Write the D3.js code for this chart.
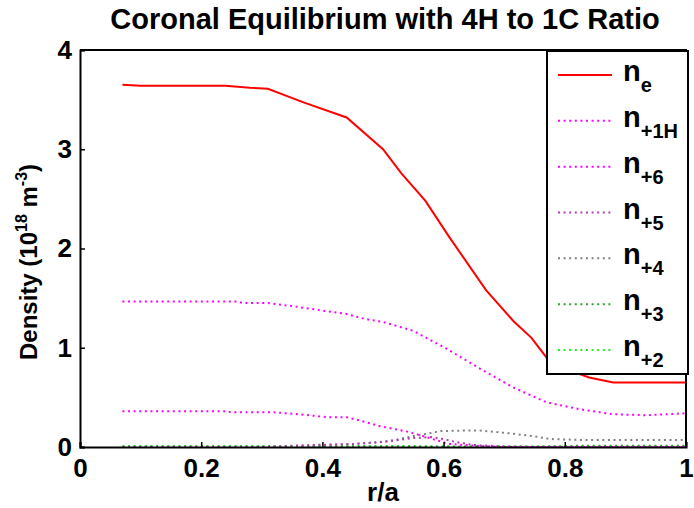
<!DOCTYPE html>
<html>
<head>
<meta charset="utf-8">
<script src="https://cdn.jsdelivr.net/npm/d3@7"></script>
<style>
  body { margin: 0; background: #fff; }
  text { font-family: "Liberation Sans", Arial, sans-serif; font-weight: bold; fill: #000; }
</style>
</head>
<body>
<div id="chart"></div>
<script>
// chart data
var rNe   = [0.07, 0.10, 0.24, 0.28, 0.31, 0.37, 0.44, 0.50, 0.53, 0.57, 0.61, 0.67, 0.715, 0.745, 0.77, 0.80, 0.84, 0.88, 1.0];
var ne    = [3.65, 3.64, 3.64, 3.62, 3.61, 3.47, 3.32, 3.00, 2.76, 2.48, 2.11, 1.58, 1.27, 1.10, 0.90, 0.79, 0.70, 0.65, 0.65];

var rH    = [0.07, 0.26, 0.27, 0.31, 0.35, 0.40, 0.44, 0.47, 0.50, 0.55, 0.605, 0.66, 0.715, 0.77, 0.825, 0.88, 0.935, 1.0];
var nH    = [1.465, 1.465, 1.45, 1.45, 1.42, 1.375, 1.34, 1.29, 1.26, 1.17, 0.99, 0.79, 0.60, 0.45, 0.38, 0.33, 0.32, 0.34];

var rC6   = [0.07, 0.24, 0.25, 0.32, 0.36, 0.41, 0.44, 0.46, 0.495, 0.54, 0.566, 0.59, 0.61, 0.66, 0.70, 1.0];
var nC6   = [0.36, 0.36, 0.35, 0.35, 0.33, 0.30, 0.30, 0.27, 0.21, 0.155, 0.11, 0.065, 0.03, 0.01, 0.0, 0.0];

var rC5   = [0.07, 0.30, 0.38, 0.45, 0.50, 0.55, 0.58, 0.60, 0.62, 0.65, 0.70, 0.75, 1.0];
var nC5   = [0.0, 0.0, 0.02, 0.03, 0.05, 0.09, 0.10, 0.08, 0.05, 0.02, 0.005, 0.0, 0.0];

var rC4   = [0.07, 0.35, 0.40, 0.45, 0.495, 0.523, 0.55, 0.578, 0.594, 0.633, 0.66, 0.705, 0.748, 0.776, 0.83, 1.0];
var nC4   = [0.0, 0.0, 0.02, 0.03, 0.05, 0.075, 0.11, 0.14, 0.16, 0.165, 0.165, 0.14, 0.11, 0.08, 0.07, 0.07];

var rC3   = [0.07, 0.75, 0.82, 1.0];
var nC3   = [0.003, 0.003, 0.012, 0.012];

var rC2   = [0.07, 0.55, 0.60, 1.0];
var nC2   = [0.01, 0.01, 0.005, 0.005];

var labels = ["e", "+1H", "+6", "+5", "+4", "+3", "+2"];
var colors = ["#ff0000", "#ff00ff", "#ff00ff", "#b040b0", "#808080", "#33a033", "#22ee22"];

var xTicks = [0, 0.2, 0.4, 0.6, 0.8, 1];
var yTicks = [0, 1, 2, 3, 4];

var series = [
  {r: rNe, n: ne}, {r: rH, n: nH}, {r: rC6, n: nC6}, {r: rC5, n: nC5},
  {r: rC4, n: nC4}, {r: rC3, n: nC3}, {r: rC2, n: nC2}
].map(function(s, i) {
  return {label: labels[i], color: colors[i], dotted: i > 0,
          pts: s.r.map(function(r, j) { return [r, s.n[j]]; })};
});

var svgWidth = 694;
var svgHeight = 508;
var margin = {top: 50, bottom: 61, right: 8, left: 80};
var width = svgWidth - margin.left - margin.right;
var height = svgHeight - margin.top - margin.bottom;

var svg = d3.select("#chart").append("svg")
  .attr("width", svgWidth)
  .attr("height", svgHeight);

var chartGroup = svg.append("g")
  .attr("transform", `translate(${margin.left}, ${margin.top})`);

var xScale = d3.scaleLinear().domain([0, 1]).range([0, width]);
var yScale = d3.scaleLinear().domain([0, 4]).range([height, 0]);

// lines
var line = d3.line()
  .x(d => xScale(d[0]))
  .y(d => yScale(d[1]));

chartGroup.selectAll(".series")
  .data(series.slice().reverse())
  .enter()
  .append("path")
  .attr("class", "series")
  .attr("d", d => line(d.pts))
  .attr("fill", "none")
  .attr("stroke", d => d.color)
  .attr("stroke-width", 2)
  .attr("stroke-dasharray", d => d.dotted ? "2,3.6" : null);

// axes: ticks pointing inward, like matlab
var bottomAxis = d3.axisBottom(xScale).tickValues(xTicks).tickSize(-5).tickPadding(12)
  .tickFormat(d => d === 0 || d === 1 ? d3.format("d")(d) : d3.format(".1f")(d));
var leftAxis = d3.axisLeft(yScale).tickValues(yTicks).tickSize(-5).tickPadding(8)
  .tickFormat(d3.format("d"));

var xAxisG = chartGroup.append("g")
  .attr("transform", `translate(0, ${height})`)
  .call(bottomAxis);
var yAxisG = chartGroup.append("g").call(leftAxis);

[xAxisG, yAxisG].forEach(function(g) {
  g.select(".domain").attr("stroke", "#000").attr("stroke-width", 2);
  g.selectAll(".tick line").attr("stroke", "#000").attr("stroke-width", 1.5);
  g.selectAll(".tick text").style("font-size", "26px").attr("fill", "#000");
});

// box top and right
chartGroup.append("path")
  .attr("d", `M0,0H${width}V${height}`)
  .attr("fill", "none")
  .attr("stroke", "#000")
  .attr("stroke-width", 2);

// title and axis labels
svg.append("text")
  .attr("x", 385)
  .attr("y", 29)
  .attr("text-anchor", "middle")
  .style("font-size", "29px")
  .text("Coronal Equilibrium with 4H to 1C Ratio");

svg.append("text")
  .attr("x", margin.left + width / 2)
  .attr("y", 501)
  .attr("text-anchor", "middle")
  .style("font-size", "26px")
  .text("r/a");

var yLabel = svg.append("text")
  .attr("transform", "translate(37, 262) rotate(-90)")
  .attr("text-anchor", "middle")
  .style("font-size", "24px");
yLabel.append("tspan").text("Density (10");
yLabel.append("tspan").attr("dy", -10).style("font-size", "16px").text("18");
yLabel.append("tspan").attr("dy", 10).text(" m");
yLabel.append("tspan").attr("dy", -10).style("font-size", "16px").text("-3");
yLabel.append("tspan").attr("dy", 10).text(")");

// legend
var legend = svg.append("g").attr("transform", "translate(547, 51)");
legend.append("rect")
  .attr("width", 141)
  .attr("height", 323)
  .attr("fill", "#fff")
  .attr("stroke", "#000")
  .attr("stroke-width", 2);

var legendY = d3.scalePoint().domain(labels).range([24, 299]);

var entries = legend.selectAll(".entry")
  .data(series)
  .enter()
  .append("g")
  .attr("class", "entry")
  .attr("transform", d => `translate(0, ${legendY(d.label)})`);

entries.append("line")
  .attr("x1", 11).attr("x2", 65)
  .attr("stroke", d => d.color)
  .attr("stroke-width", 2)
  .attr("stroke-dasharray", d => d.dotted ? "2,3.6" : null);

var legendText = entries.append("text")
  .attr("x", 76)
  .attr("y", 6)
  .style("font-size", "29px");
legendText.append("tspan").text("n");
legendText.append("tspan")
  .attr("dy", 11)
  .style("font-size", "20px")
  .text(d => d.label);
</script>
</body>
</html>
